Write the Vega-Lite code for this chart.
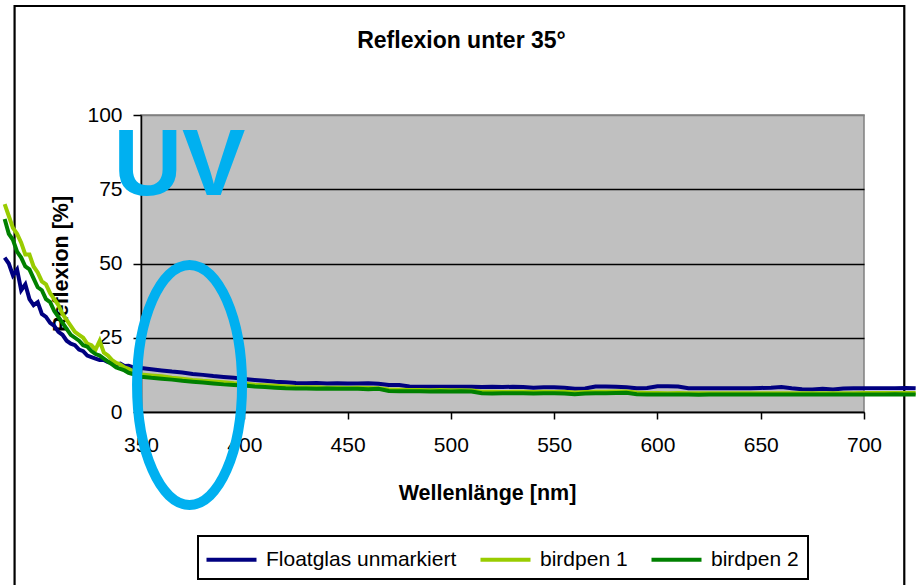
{
  "$schema": "https://vega.github.io/schema/vega-lite/v6.json",
  "width": 723,
  "height": 297,
  "autosize": {"type": "none"},
  "padding": {"left": 141, "top": 115, "right": 55, "bottom": 173},
  "background": "white",
  "title": {
    "text": "Reflexion unter 35°",
    "font": "Liberation Sans",
    "fontSize": 23,
    "fontWeight": "bold",
    "color": "black",
    "anchor": "middle",
    "frame": "group",
    "baseline": "alphabetic",
    "dx": -41,
    "offset": -66
  },
  "config": {
    "font": "Liberation Sans",
    "view": {"fill": "#C0C0C0", "stroke": "#808080", "strokeWidth": 1.5}
  },
  "datasets": {
    "spectra": [
      {"w": 284, "Floatglas unmarkiert": 52, "birdpen 1": 70, "birdpen 2": 65},
      {"w": 286, "Floatglas unmarkiert": 50, "birdpen 1": 66, "birdpen 2": 60},
      {"w": 288, "Floatglas unmarkiert": 46, "birdpen 1": 62, "birdpen 2": 58},
      {"w": 290, "Floatglas unmarkiert": 48, "birdpen 1": 60, "birdpen 2": 54},
      {"w": 292, "Floatglas unmarkiert": 41, "birdpen 1": 57, "birdpen 2": 52},
      {"w": 294, "Floatglas unmarkiert": 43, "birdpen 1": 53, "birdpen 2": 49},
      {"w": 296, "Floatglas unmarkiert": 38, "birdpen 1": 53, "birdpen 2": 48},
      {"w": 298, "Floatglas unmarkiert": 36, "birdpen 1": 49, "birdpen 2": 45},
      {"w": 300, "Floatglas unmarkiert": 37, "birdpen 1": 47, "birdpen 2": 42},
      {"w": 302, "Floatglas unmarkiert": 33, "birdpen 1": 44, "birdpen 2": 41},
      {"w": 304, "Floatglas unmarkiert": 32, "birdpen 1": 43, "birdpen 2": 38},
      {"w": 306, "Floatglas unmarkiert": 30, "birdpen 1": 40, "birdpen 2": 37},
      {"w": 308, "Floatglas unmarkiert": 29, "birdpen 1": 38, "birdpen 2": 34},
      {"w": 310, "Floatglas unmarkiert": 27, "birdpen 1": 36, "birdpen 2": 32},
      {"w": 312, "Floatglas unmarkiert": 26, "birdpen 1": 33, "birdpen 2": 30},
      {"w": 314, "Floatglas unmarkiert": 24, "birdpen 1": 31, "birdpen 2": 28},
      {"w": 316, "Floatglas unmarkiert": 23, "birdpen 1": 29, "birdpen 2": 26},
      {"w": 318, "Floatglas unmarkiert": 22.5, "birdpen 1": 27, "birdpen 2": 25},
      {"w": 320, "Floatglas unmarkiert": 21, "birdpen 1": 26, "birdpen 2": 24},
      {"w": 322, "Floatglas unmarkiert": 20.5, "birdpen 1": 25, "birdpen 2": 22.5},
      {"w": 324, "Floatglas unmarkiert": 19, "birdpen 1": 23, "birdpen 2": 22},
      {"w": 326, "Floatglas unmarkiert": 18.5, "birdpen 1": 22.5, "birdpen 2": 20.5},
      {"w": 328, "Floatglas unmarkiert": 18, "birdpen 1": 21, "birdpen 2": 19.5},
      {"w": 330, "Floatglas unmarkiert": 17.5, "birdpen 1": 24, "birdpen 2": 19},
      {"w": 332, "Floatglas unmarkiert": 17.5, "birdpen 1": 20, "birdpen 2": 18},
      {"w": 334, "Floatglas unmarkiert": 16.8, "birdpen 1": 19, "birdpen 2": 17},
      {"w": 336, "Floatglas unmarkiert": 16.5, "birdpen 1": 17.5, "birdpen 2": 16},
      {"w": 338, "Floatglas unmarkiert": 16, "birdpen 1": 16.5, "birdpen 2": 15},
      {"w": 340, "Floatglas unmarkiert": 16.3, "birdpen 1": 16, "birdpen 2": 14.5},
      {"w": 342, "Floatglas unmarkiert": 15.5, "birdpen 1": 15, "birdpen 2": 14},
      {"w": 344, "Floatglas unmarkiert": 15.6, "birdpen 1": 14.5, "birdpen 2": 13.2},
      {"w": 346, "Floatglas unmarkiert": 15.1, "birdpen 1": 13.8, "birdpen 2": 12.8},
      {"w": 348, "Floatglas unmarkiert": 15.2, "birdpen 1": 13, "birdpen 2": 12.2},
      {"w": 350, "Floatglas unmarkiert": 14.8, "birdpen 1": 12.6, "birdpen 2": 11.9},
      {"w": 355, "Floatglas unmarkiert": 14.4, "birdpen 1": 12.3, "birdpen 2": 11.5},
      {"w": 360, "Floatglas unmarkiert": 14.0, "birdpen 1": 12.0, "birdpen 2": 11.2},
      {"w": 365, "Floatglas unmarkiert": 13.6, "birdpen 1": 11.5, "birdpen 2": 10.9},
      {"w": 370, "Floatglas unmarkiert": 13.3, "birdpen 1": 11.2, "birdpen 2": 10.5},
      {"w": 375, "Floatglas unmarkiert": 12.8, "birdpen 1": 10.8, "birdpen 2": 10.2},
      {"w": 380, "Floatglas unmarkiert": 12.5, "birdpen 1": 10.5, "birdpen 2": 9.9},
      {"w": 385, "Floatglas unmarkiert": 12.1, "birdpen 1": 10.3, "birdpen 2": 9.6},
      {"w": 390, "Floatglas unmarkiert": 11.8, "birdpen 1": 10.0, "birdpen 2": 9.3},
      {"w": 395, "Floatglas unmarkiert": 11.5, "birdpen 1": 9.7, "birdpen 2": 9.1},
      {"w": 400, "Floatglas unmarkiert": 11.1, "birdpen 1": 9.5, "birdpen 2": 8.9},
      {"w": 405, "Floatglas unmarkiert": 10.8, "birdpen 1": 9.2, "birdpen 2": 8.6},
      {"w": 410, "Floatglas unmarkiert": 10.5, "birdpen 1": 9.0, "birdpen 2": 8.4},
      {"w": 415, "Floatglas unmarkiert": 10.2, "birdpen 1": 8.8, "birdpen 2": 8.2},
      {"w": 420, "Floatglas unmarkiert": 10.0, "birdpen 1": 8.6, "birdpen 2": 8.0},
      {"w": 425, "Floatglas unmarkiert": 9.8, "birdpen 1": 8.4, "birdpen 2": 7.9},
      {"w": 430, "Floatglas unmarkiert": 9.7, "birdpen 1": 8.3, "birdpen 2": 7.9},
      {"w": 435, "Floatglas unmarkiert": 9.8, "birdpen 1": 8.3, "birdpen 2": 7.8},
      {"w": 440, "Floatglas unmarkiert": 9.6, "birdpen 1": 8.2, "birdpen 2": 7.9},
      {"w": 445, "Floatglas unmarkiert": 9.7, "birdpen 1": 8.2, "birdpen 2": 7.8},
      {"w": 450, "Floatglas unmarkiert": 9.6, "birdpen 1": 8.1, "birdpen 2": 7.8},
      {"w": 455, "Floatglas unmarkiert": 9.6, "birdpen 1": 8.2, "birdpen 2": 7.8},
      {"w": 460, "Floatglas unmarkiert": 9.7, "birdpen 1": 8.1, "birdpen 2": 7.7},
      {"w": 465, "Floatglas unmarkiert": 9.5, "birdpen 1": 8.0, "birdpen 2": 7.8},
      {"w": 470, "Floatglas unmarkiert": 9.1, "birdpen 1": 7.6, "birdpen 2": 7.1},
      {"w": 475, "Floatglas unmarkiert": 9.1, "birdpen 1": 7.5, "birdpen 2": 7.0},
      {"w": 480, "Floatglas unmarkiert": 8.6, "birdpen 1": 7.4, "birdpen 2": 7.0},
      {"w": 485, "Floatglas unmarkiert": 8.5, "birdpen 1": 7.4, "birdpen 2": 7.0},
      {"w": 490, "Floatglas unmarkiert": 8.5, "birdpen 1": 7.3, "birdpen 2": 6.9},
      {"w": 495, "Floatglas unmarkiert": 8.5, "birdpen 1": 7.4, "birdpen 2": 7.0},
      {"w": 500, "Floatglas unmarkiert": 8.5, "birdpen 1": 7.3, "birdpen 2": 6.9},
      {"w": 505, "Floatglas unmarkiert": 8.5, "birdpen 1": 7.3, "birdpen 2": 7.0},
      {"w": 510, "Floatglas unmarkiert": 8.5, "birdpen 1": 7.2, "birdpen 2": 6.9},
      {"w": 515, "Floatglas unmarkiert": 8.4, "birdpen 1": 6.8, "birdpen 2": 6.3},
      {"w": 520, "Floatglas unmarkiert": 8.5, "birdpen 1": 6.8, "birdpen 2": 6.2},
      {"w": 525, "Floatglas unmarkiert": 8.4, "birdpen 1": 6.7, "birdpen 2": 6.3},
      {"w": 530, "Floatglas unmarkiert": 8.5, "birdpen 1": 6.8, "birdpen 2": 6.3},
      {"w": 535, "Floatglas unmarkiert": 8.4, "birdpen 1": 6.8, "birdpen 2": 6.3},
      {"w": 540, "Floatglas unmarkiert": 8.2, "birdpen 1": 6.7, "birdpen 2": 6.2},
      {"w": 545, "Floatglas unmarkiert": 8.3, "birdpen 1": 6.8, "birdpen 2": 6.3},
      {"w": 550, "Floatglas unmarkiert": 8.3, "birdpen 1": 6.7, "birdpen 2": 6.3},
      {"w": 555, "Floatglas unmarkiert": 8.2, "birdpen 1": 6.8, "birdpen 2": 6.2},
      {"w": 560, "Floatglas unmarkiert": 7.8, "birdpen 1": 6.6, "birdpen 2": 6.0},
      {"w": 565, "Floatglas unmarkiert": 7.9, "birdpen 1": 6.7, "birdpen 2": 6.2},
      {"w": 570, "Floatglas unmarkiert": 8.6, "birdpen 1": 6.8, "birdpen 2": 6.3},
      {"w": 575, "Floatglas unmarkiert": 8.6, "birdpen 1": 6.8, "birdpen 2": 6.3},
      {"w": 580, "Floatglas unmarkiert": 8.5, "birdpen 1": 6.9, "birdpen 2": 6.4},
      {"w": 585, "Floatglas unmarkiert": 8.3, "birdpen 1": 6.9, "birdpen 2": 6.5},
      {"w": 590, "Floatglas unmarkiert": 8.0, "birdpen 1": 6.6, "birdpen 2": 6.0},
      {"w": 595, "Floatglas unmarkiert": 8.1, "birdpen 1": 6.4, "birdpen 2": 5.9},
      {"w": 600, "Floatglas unmarkiert": 8.7, "birdpen 1": 6.4, "birdpen 2": 5.9},
      {"w": 605, "Floatglas unmarkiert": 8.7, "birdpen 1": 6.3, "birdpen 2": 5.9},
      {"w": 610, "Floatglas unmarkiert": 8.6, "birdpen 1": 6.4, "birdpen 2": 5.9},
      {"w": 615, "Floatglas unmarkiert": 8.0, "birdpen 1": 6.3, "birdpen 2": 5.9},
      {"w": 620, "Floatglas unmarkiert": 8.0, "birdpen 1": 6.3, "birdpen 2": 5.8},
      {"w": 625, "Floatglas unmarkiert": 8.0, "birdpen 1": 6.3, "birdpen 2": 5.9},
      {"w": 630, "Floatglas unmarkiert": 8.0, "birdpen 1": 6.3, "birdpen 2": 5.9},
      {"w": 635, "Floatglas unmarkiert": 8.0, "birdpen 1": 6.3, "birdpen 2": 5.9},
      {"w": 640, "Floatglas unmarkiert": 8.0, "birdpen 1": 6.3, "birdpen 2": 5.9},
      {"w": 645, "Floatglas unmarkiert": 8.0, "birdpen 1": 6.3, "birdpen 2": 5.9},
      {"w": 650, "Floatglas unmarkiert": 8.1, "birdpen 1": 6.3, "birdpen 2": 5.9},
      {"w": 655, "Floatglas unmarkiert": 8.2, "birdpen 1": 6.3, "birdpen 2": 5.9},
      {"w": 660, "Floatglas unmarkiert": 8.4, "birdpen 1": 6.3, "birdpen 2": 5.9},
      {"w": 665, "Floatglas unmarkiert": 8.0, "birdpen 1": 6.3, "birdpen 2": 5.9},
      {"w": 670, "Floatglas unmarkiert": 7.7, "birdpen 1": 6.3, "birdpen 2": 5.9},
      {"w": 675, "Floatglas unmarkiert": 7.6, "birdpen 1": 6.3, "birdpen 2": 5.9},
      {"w": 680, "Floatglas unmarkiert": 7.8, "birdpen 1": 6.3, "birdpen 2": 5.9},
      {"w": 685, "Floatglas unmarkiert": 7.6, "birdpen 1": 6.3, "birdpen 2": 5.9},
      {"w": 690, "Floatglas unmarkiert": 7.9, "birdpen 1": 6.3, "birdpen 2": 5.9},
      {"w": 695, "Floatglas unmarkiert": 8.0, "birdpen 1": 6.3, "birdpen 2": 5.9},
      {"w": 700, "Floatglas unmarkiert": 8.0, "birdpen 1": 6.4, "birdpen 2": 5.9},
      {"w": 705, "Floatglas unmarkiert": 8.0, "birdpen 1": 6.4, "birdpen 2": 5.9},
      {"w": 710, "Floatglas unmarkiert": 8.0, "birdpen 1": 6.4, "birdpen 2": 5.9},
      {"w": 715, "Floatglas unmarkiert": 8.0, "birdpen 1": 6.4, "birdpen 2": 6.0},
      {"w": 720, "Floatglas unmarkiert": 8.1, "birdpen 1": 6.4, "birdpen 2": 5.9},
      {"w": 725, "Floatglas unmarkiert": 8.0, "birdpen 1": 6.4, "birdpen 2": 5.9}
    ]
  },
  "encoding": {
    "x": {
      "field": "w",
      "type": "quantitative",
      "scale": {"domain": [350, 700], "nice": false, "zero": false},
      "axis": {
        "values": [350, 400, 450, 500, 550, 600, 650, 700],
        "title": "Wellenlänge [nm]",
        "titleFont": "Liberation Sans",
        "titleFontSize": 21.5,
        "titleFontWeight": "bold",
        "titleColor": "black",
        "titleX": 346,
        "titleY": 87,
        "titleAlign": "center",
        "titleBaseline": "alphabetic",
        "labelFont": "Liberation Sans",
        "labelFontSize": 21,
        "labelColor": "black",
        "labelPadding": 15,
        "labelFlush": false,
        "labelOverlap": false,
        "tickSize": 7,
        "tickColor": "black",
        "tickWidth": 1.5,
        "domainColor": "black",
        "domainWidth": 1.5,
        "grid": false
      }
    },
    "y": {
      "field": "r",
      "type": "quantitative",
      "scale": {"domain": [0, 100], "nice": false, "zero": false},
      "axis": {
        "values": [0, 25, 50, 75, 100],
        "title": "Reflexion [%]",
        "titleFont": "Liberation Sans",
        "titleFontSize": 21.5,
        "titleFontWeight": "bold",
        "titleColor": "black",
        "titleAngle": -90,
        "titleX": -74,
        "titleY": 148.5,
        "titleAlign": "center",
        "titleBaseline": "alphabetic",
        "labelFont": "Liberation Sans",
        "labelFontSize": 21,
        "labelColor": "black",
        "labelPadding": 11,
        "labelFlush": false,
        "labelOverlap": false,
        "tickSize": 8,
        "tickColor": "black",
        "tickWidth": 1.5,
        "domainColor": "black",
        "domainWidth": 1.5,
        "grid": true,
        "gridColor": {"condition": {"test": "datum.value === 100", "value": "#808080"}, "value": "#000000"},
        "gridWidth": 1.3
      }
    }
  },
  "layer": [
    {
      "data": {"values": [{"w": 288.8, "w2": 719.5, "r": 136.7, "r2": -70}]},
      "mark": {"type": "rect", "fill": null, "stroke": "black", "strokeWidth": 2.2},
      "encoding": {
        "x2": {"field": "w2"},
        "y2": {"field": "r2"}
      }
    },
    {
      "data": {"name": "spectra"},
      "transform": [
        {"fold": ["Floatglas unmarkiert", "birdpen 1", "birdpen 2"], "as": ["series", "r"]}
      ],
      "mark": {"type": "line", "strokeWidth": 4, "interpolate": "linear"},
      "encoding": {
        "color": {
          "field": "series",
          "type": "nominal",
          "sort": ["Floatglas unmarkiert", "birdpen 1", "birdpen 2"],
          "scale": {
            "domain": ["Floatglas unmarkiert", "birdpen 1", "birdpen 2"],
            "range": ["#000080", "#99CC00", "#008000"]
          },
          "legend": {
            "orient": "none",
            "direction": "horizontal",
            "legendX": 57,
            "legendY": 421,
            "title": null,
            "symbolType": "M -2 0 L 2 0",
            "symbolSize": 625,
            "symbolOffset": 10,
            "symbolStrokeWidth": 4,
            "labelFont": "Liberation Sans",
            "labelFontSize": 21,
            "labelColor": "black",
            "labelOffset": 20,
            "labelLimit": 400,
            "columnPadding": 15,
            "padding": 9,
            "strokeColor": "black",
            "encode": {"legend": {"update": {"strokeWidth": {"value": 2}}}}
          }
        }
      }
    },
    {
      "data": {"values": [{"w": 373.5, "r": 9.1}]},
      "mark": {
        "type": "point",
        "shape": "M -0.4375 0 A 0.4375 1 0 1 1 0.4375 0 A 0.4375 1 0 1 1 -0.4375 0 Z",
        "size": 57600,
        "filled": false,
        "stroke": "#00B0F0",
        "strokeWidth": 10,
        "opacity": 1
      }
    },
    {
      "data": {"values": [{"w": 368.6, "r": 73.1, "label": "UV"}]},
      "mark": {
        "type": "text",
        "font": "Liberation Sans",
        "fontSize": 95,
        "fontWeight": "bold",
        "color": "#00B0F0",
        "align": "center",
        "baseline": "alphabetic"
      },
      "encoding": {"text": {"field": "label"}}
    }
  ]
}
